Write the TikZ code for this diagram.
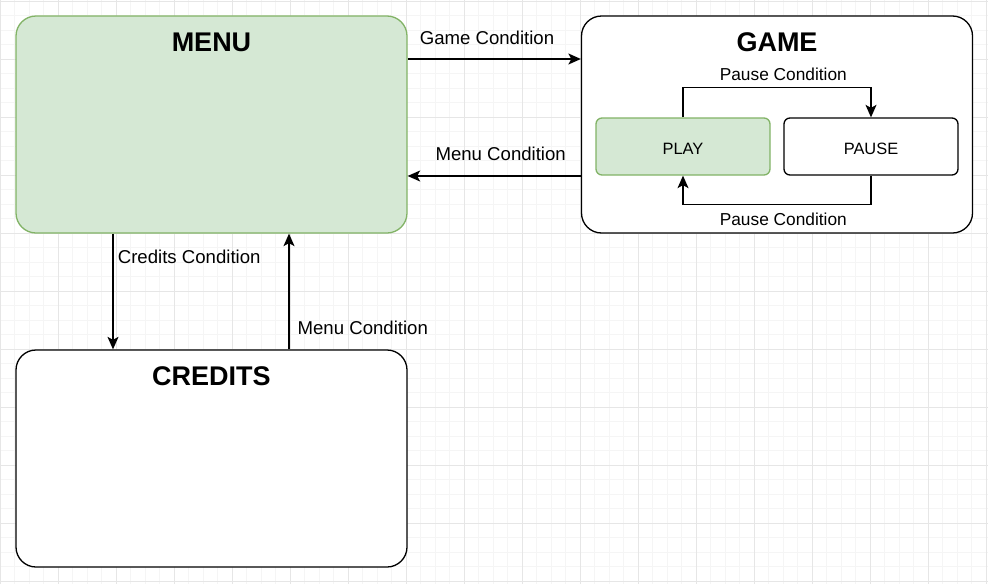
\documentclass[tikz,border=0pt]{standalone}
\usepackage{fontspec}
\setmainfont{Liberation Sans}
\usepackage{xcolor}
\usepackage{tikz}
\usetikzlibrary{arrows.meta}
\definecolor{smgreenfill}{HTML}{D5E8D4}
\definecolor{smgreenline}{HTML}{82B366}
\definecolor{smgridminor}{HTML}{F5F5F5}
\definecolor{smgridmajor}{HTML}{E6E6E6}
\tikzset{
  smstate/.style={rounded corners=20pt, line width=1.3pt, draw=black, fill=white, minimum width=391pt, minimum height=217pt, inner sep=0pt},
  smgreen/.style={fill=smgreenfill, draw=smgreenline},
  smsub/.style={rounded corners=6pt, line width=1.3pt, draw=black, fill=white, minimum width=174pt, minimum height=57pt, inner sep=0pt, text height=15pt, text depth=0pt, font=\fontsize{16.4}{19}\selectfont},
  smtitle/.style={font=\fontsize{27}{32}\selectfont\bfseries, inner sep=0pt},
  smlabel/.style={font=\fontsize{18.6}{22}\selectfont, inner sep=0pt},
  smsmall/.style={font=\fontsize{17.3}{20}\selectfont, inner sep=0pt},
  smarrow/.style={line width=1.3pt, -{Stealth[length=12.5pt,width=11pt,inset=3pt]}},
  smminor/.style={line width=0.7pt, draw=smgridminor},
  smmajor/.style={line width=1pt, draw=smgridmajor},
}

\begin{document}
\begin{tikzpicture}[x=1pt,y=-1pt]
\useasboundingbox (0,0) rectangle (988,584);
% background grid
\foreach \i in {0,...,68} \draw[smminor] ({0.3+14.5*\i},0) -- ({0.3+14.5*\i},584);
\foreach \i in {0,...,40} \draw[smminor] (0,{1.3+14.5*\i}) -- (988,{1.3+14.5*\i});
\foreach \i in {0,...,17} \draw[smmajor] ({0.3+58*\i},0) -- ({0.3+58*\i},584);
\foreach \i in {0,...,10} \draw[smmajor] (0,{1.3+58*\i}) -- (988,{1.3+58*\i});

% states
\node[smstate, smgreen] (menu) at (211.5,124.5) {};
\node[smstate] (game) at (777,124.5) {};
\node[smstate] (credits) at (211.5,458.5) {};
\node[smtitle] (menutitle) at (211.5,42) {MENU};
\node[smtitle] (gametitle) at (777,42) {GAME};
\node[smtitle] (creditstitle) at (211.5,376) {CREDITS};

% sub states of the game
\node[smsub, smgreen] (play) at (683,146.5) {PLAY};
\node[smsub] (pause) at (871,146.5) {PAUSE};

% transitions
\draw[smarrow] ([yshift=65.5pt]menu.east) -- ([yshift=65.5pt]game.west);
\node[smlabel] (gamecond) at (487,38.3) {Game Condition};
\draw[smarrow] ([yshift=-51.5pt]game.west) -- ([yshift=-51.5pt]menu.east);
\node[smlabel] (menucond) at (500.7,154.3) {Menu Condition};
\draw[smarrow] ([xshift=-98.5pt]menu.south) -- ([xshift=-98.5pt]credits.north);
\node[smlabel] (creditscond) at (189.2,256.7) {Credits Condition};
\draw[smarrow] ([xshift=77.5pt]credits.north) -- ([xshift=77.5pt]menu.south);
\node[smlabel] (backcond) at (362.8,327.8) {Menu Condition};

\draw[smarrow] (play.north) -- ++(0,-30) -| (pause.north);
\node[smsmall] (pausecond) at (783.3,74.2) {Pause Condition};
\draw[smarrow] (pause.south) -- ++(0,29) -| (play.south);
\node[smsmall] (resumecond) at (783.3,219.5) {Pause Condition};
\end{tikzpicture}
\end{document}
